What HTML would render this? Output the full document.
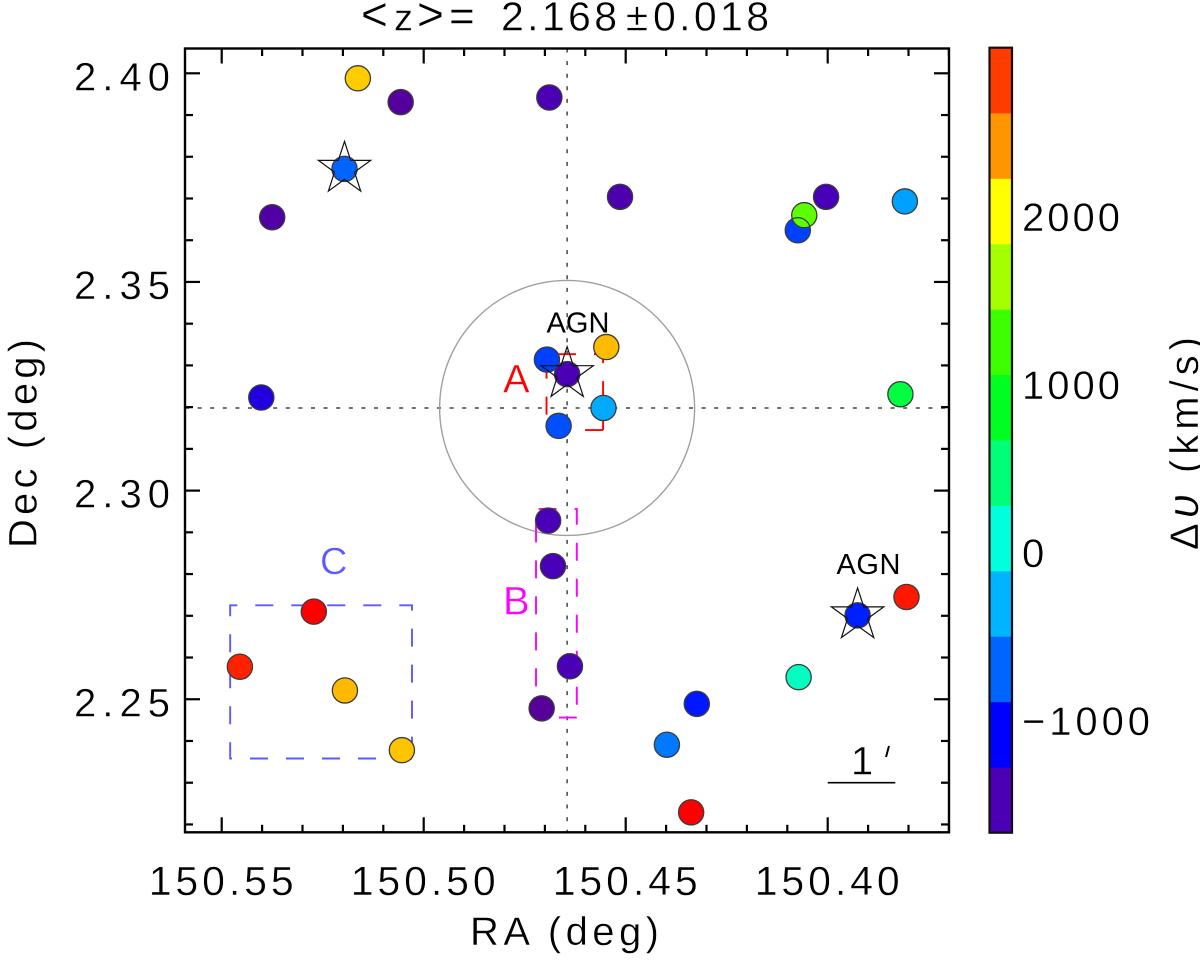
<!DOCTYPE html>
<html lang="en">
<head>
<meta charset="utf-8">
<title>Galaxy overdensity map</title>
<style>
html,body{margin:0;padding:0;background:#fff;}
svg{display:block;}
text{font-family:"Liberation Sans","DejaVu Sans",sans-serif;fill:#000;stroke:#fff;stroke-width:.4px;}
</style>
</head>
<body>
<svg id="chart" xmlns="http://www.w3.org/2000/svg" width="1200" height="961" viewBox="0 0 1200 961"></svg>
<script>
const raValues = [150.5163,150.5057,150.4689,150.5196,150.5375,150.4514,150.4004,150.4074,150.4058,150.3809,150.4548,150.4695,150.4645,150.5402,150.4555,150.4666,150.3820,150.4692,150.4680,150.4638,150.4708,150.5272,150.5455,150.5195,150.5054,150.3805,150.3926,150.4072,150.4324,150.4398,150.4338];
const decValues = [2.3988,2.3931,2.3942,2.3771,2.3655,2.3704,2.3704,2.3624,2.3660,2.3693,2.3344,2.3314,2.3279,2.3223,2.3198,2.3155,2.3231,2.2928,2.2819,2.2579,2.2478,2.2710,2.2578,2.2521,2.2378,2.2745,2.2701,2.2553,2.2489,2.2391,2.2229];
const velocityValues = [2229,-1620,-1461,-683,-1560,-1500,-1440,-822,1375,-390,2293,-822,-1470,-1240,-340,-760,733,-1450,-1450,-1450,-1640,3000,2900,2300,2260,2930,-950,204,-980,-580,3000];
const starRa = [150.5196,150.4645,150.3926];
const starDec = [2.3771,2.3279,2.2701];
const raTicks = [150.55,150.50,150.45,150.40];
const raTickLabels = ["150.55","150.50","150.45","150.40"];
const raMinorTicks = [150.54,150.53,150.52,150.51,150.49,150.48,150.47,150.46,150.44,150.43,150.42,150.41,150.39,150.38,150.37];
const decTicks = [2.40,2.35,2.30,2.25];
const decTickLabels = ["2.40","2.35","2.30","2.25"];
const decMinorTicks = [2.39,2.38,2.37,2.36,2.34,2.33,2.32,2.31,2.29,2.28,2.27,2.26,2.24,2.23,2.22];
const colorbarTicks = [2000,1000,0,-1000];
const colorbarTickLabels = ["2000","1000","0","\u22121000"];
const colorbarLevels = [-1461,-1072,-683,-294,95,484,873,1262,1651,2040,2429,2818];
const colorbarColors = ["#4b00b4","#0000ff","#0064ff","#00b4ff","#00ffdc","#00ff78","#00ff20","#3cff00","#a5ff00","#ffff00","#ff9600","#ff3c00"];
const centerRa = 150.4645;
const centerDec = 2.3198;
const boxNames = ["a","b","c"];
const boxRaLeft = [150.4696,150.4722,150.5479];
const boxRaRight = [150.4556,150.4621,150.5029];
const boxDecTop = [2.3327,2.2956,2.2725];
const boxDecBottom = [2.3145,2.2456,2.2358];
const boxColors = ["#ff0000","#ff00ff","#5a5aff"];

const NS = "http://www.w3.org/2000/svg";
const svg = document.getElementById("chart");
const plotL = 185, plotR = 949, plotT = 48.5, plotB = 832.3;
const cbL = 989.5, cbR = 1012, cbT = 47.7, cbB = 832.7;
function xScale(ra){ return 221.7 + (150.55 - ra) * 4040; }
function yScale(dec){ return 73.3 + (2.40 - dec) * 4173; }
function cbLabelY(v){ return 217.5 + (2000 - v) * 0.168; }
function cbY(v){ return cbB - (v + 1655.5) * (65.42 / 389); }

function hex(c){ return [1,3,5].map(function(i){ return parseInt(c.substr(i,2),16); }); }
function colorFor(v){
  const lv = [-1700].concat(colorbarLevels, [3000]);
  const cs = ["#5a0090"].concat(colorbarColors, ["#ff0000"]);
  if (v <= lv[0]) return cs[0];
  if (v >= lv[lv.length-1]) return cs[cs.length-1];
  for (let i = 0; i < lv.length-1; i++){
    if (v <= lv[i+1]){
      const t = (v - lv[i]) / (lv[i+1] - lv[i]);
      const a = hex(cs[i]), b = hex(cs[i+1]);
      return "rgb(" + a.map(function(q,k){ return Math.round(q + (b[k]-q)*t); }).join(",") + ")";
    }
  }
}
function add(tag, attrs, parent){
  const el = document.createElementNS(NS, tag);
  for (const k in attrs) el.setAttribute(k, attrs[k]);
  (parent || svg).appendChild(el);
  return el;
}
function label(str, x, y, size, len, extra){
  const el = add("text", Object.assign({x:x, y:y, "font-size":size}, len ? {textLength:len, lengthAdjust:"spacing"} : {}, extra || {}));
  el.textContent = str;
  return el;
}
function line(x1,y1,x2,y2,stroke,w,extra){
  return add("line", Object.assign({x1:x1,y1:y1,x2:x2,y2:y2,stroke:stroke,"stroke-width":w}, extra||{}));
}
function starPoints(cx, cy, R){
  const pts = [];
  for (let i = 0; i < 10; i++){
    const r = i % 2 ? R * 0.382 : R;
    const a = -Math.PI/2 + i * Math.PI/5;
    pts.push((cx + r*Math.cos(a)).toFixed(1) + "," + (cy + r*Math.sin(a)).toFixed(1));
  }
  return pts.join(" ");
}

/* crosshair */
const hLine = line(plotL, yScale(centerDec), plotR, yScale(centerDec), "#444", 1.5, {"stroke-dasharray":"4 8.6"});


const vLine = line(xScale(centerRa), plotT, xScale(centerRa), plotB, "#444", 1.5, {"stroke-dasharray":"4 8.6"});



/* search radius circle */
const ring = add("circle", {cx:xScale(centerRa), cy:yScale(centerDec), r:127.5, fill:"none", stroke:"#a0a0a0", "stroke-width":1.4});



/* dashed region boxes: drawn from bottom-right, clockwise */
boxNames.forEach(function(n, i){
  const l = xScale(boxRaLeft[i]), r = xScale(boxRaRight[i]), t = yScale(boxDecTop[i]), b = yScale(boxDecBottom[i]);
  const box = add("path", {d:"M"+r+" "+b+"L"+l+" "+b+"L"+l+" "+t+"L"+r+" "+t+"L"+r+" "+b, fill:"none", stroke:boxColors[i], "stroke-width":1.9, "stroke-dasharray":"18 18"});
  
  
});

/* points: fills first, then outlines */
velocityValues.forEach(function(v, i){
  const c = add("circle", {cx:xScale(raValues[i]), cy:yScale(decValues[i]), r:12.6, fill:colorFor(v)});
  
  
});
velocityValues.forEach(function(v, i){
  const c = add("circle", {cx:xScale(raValues[i]), cy:yScale(decValues[i]), r:12.6, fill:"none", stroke:"#3c3c3c", "stroke-width":1.3});
  
  
});

/* stars */
starRa.forEach(function(ra, i){
  const s = add("polygon", {points:starPoints(xScale(ra), yScale(starDec[i]), 27.5), fill:"none", stroke:"#111", "stroke-width":1.2});
  
  
});

/* axes frame */
const frame = add("rect", {x:plotL, y:plotT, width:plotR-plotL, height:plotB-plotT, fill:"none", stroke:"#000", "stroke-width":2.4});



/* x ticks */
function xTick(ra, len, name){
  const x = xScale(ra);
  const a = line(x, plotB, x, plotB-len, "#000", 2.2);
  
  
  const b = line(x, plotT, x, plotT+len, "#000", 2.2);
  
  
}
raTicks.forEach(function(v){ xTick(v, 15, 'x-major-tick'); });
raMinorTicks.forEach(function(v){ xTick(v, 7.5, 'x-minor-tick'); });

/* y ticks */
function yTick(dec, len, name){
  const y = yScale(dec);
  const a = line(plotL, y, plotL+len, y, "#000", 2.2);
  
  
  const b = line(plotR, y, plotR-len, y, "#000", 2.2);
  
  
}
decTicks.forEach(function(v){ yTick(v, 15, 'y-major-tick'); });
decMinorTicks.forEach(function(v){ yTick(v, 8, 'y-minor-tick'); });

/* tick labels */
raTicks.forEach(function(v, i){
  const t = label(raTickLabels[i], xScale(v)-73, 895, 41, 145);
  
  
});
decTicks.forEach(function(v, i){
  const t = label(decTickLabels[i], 74, yScale(v)+17, 40, 96);
  
  
});

/* axis titles */
const xTitle = label("RA (deg)", 470, 945, 40, 189);


const yTitle = label("Dec (deg)", 0, 0, 40, 209, {transform:"translate(36.5 548) rotate(-90)"});



/* main title */
const titleLt = label("<", 361, 30, 46, 0);


const titleZ = label("z", 394, 30.5, 38, 0);


const titleGt = label(">", 417, 30, 46, 0);


const titleEq = label("=", 449, 31, 44, 0);


const title2 = label("2.168", 501, 30.7, 41, 116);


const title3 = label("\u00b1", 626, 30.7, 40, 0);


const title4 = label("0.018", 653, 30.7, 41, 116);



/* annotations */
const agn1 = label("AGN", 546.5, 332.7, 29, 63, {style:"stroke-width:0"});


const agn2 = label("AGN", 836.5, 574, 29, 64, {style:"stroke-width:0"});


const labelA = label("A", 503, 392.7, 40, 0, {style:"fill:#ff0000"});


const labelB = label("B", 503, 614.5, 40, 0, {style:"fill:#ff00ff"});


const labelC = label("C", 320, 574, 38, 0, {style:"fill:#5a5aff"});



/* scale bar */
const scaleLabel = label("1", 851, 774.3, 40, 0);


const scalePrime = line(889, 746, 886, 757, "#000", 2);


const scaleBar = line(827.7, 782.7, 895.3, 782.7, "#000", 1.7);



/* colorbar */
colorbarLevels.forEach(function(v, i){
  const top = cbY(v + 194.5), bottom = cbY(v - 194.5);
  const seg = add("rect", {x:cbL, y:top, width:cbR-cbL, height:bottom-top+0.3, fill:colorbarColors[i]});
  
  
});
const cbFrame = add("rect", {x:cbL, y:cbT, width:cbR-cbL, height:cbB-cbT, fill:"none", stroke:"#111", "stroke-width":2.2});


colorbarTicks.forEach(function(v, i){
  const s = colorbarTickLabels[i];
  const len = s.length === 1 ? 0 : (s.length === 4 ? 98 : 128);
  const t = label(s, 1022, cbLabelY(v)+13.5, 40, len);
  
  
});
const cbTitle = add("text", {transform:"translate(1198 550) rotate(-90)", x:0, y:0, "font-size":40, textLength:213, lengthAdjust:"spacing"});


const cbDelta = add("tspan", {}, cbTitle);
cbDelta.textContent = "\u0394";
const cbUpsilon = add("tspan", {"font-style":"italic", "font-size":44}, cbTitle);
cbUpsilon.textContent = "\u03c5";
const cbUnits = add("tspan", {}, cbTitle);
cbUnits.textContent = " (km/s)";
</script>
</body>
</html>
